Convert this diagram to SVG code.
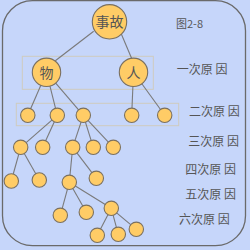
<svg xmlns="http://www.w3.org/2000/svg" width="250" height="250" viewBox="0 0 250 250">
<style>
.frame{fill:none;stroke:#6a6a6a;stroke-width:1.3}
.box{fill:none;stroke:#cfcbbf;stroke-width:1}
.edge{stroke:#7a7a7a;stroke-width:1.1;fill:none}
.node circle{fill:#ffcc66;stroke:#7a7060;stroke-width:1.1}
.nl{font-family:"Noto Sans CJK SC","Noto Sans",sans-serif;font-size:14px;fill:#555;text-anchor:middle}
.lbl{font-family:"Noto Sans CJK SC","Noto Sans",sans-serif;font-size:12px;fill:#555}
</style>
<rect width="250" height="250" fill="#c6d6fa"/>
<rect class="frame" x="2.5" y="0.7" width="243" height="245" rx="30" ry="30"/>
<rect class="box" x="22.3" y="56.3" width="131" height="33"/>
<rect class="box" x="16.3" y="103.3" width="162.4" height="22.4"/>
<g id="connectors">
<line class="edge" x1="93.7" y1="31.3" x2="55" y2="61"/>
<line class="edge" x1="121" y1="33.3" x2="132" y2="59.3"/>
<line class="edge" x1="46.5" y1="72.3" x2="27.8" y2="115.3"/>
<line class="edge" x1="46.5" y1="72.3" x2="57.3" y2="115.3"/>
<line class="edge" x1="46.5" y1="72.3" x2="83.3" y2="115.3"/>
<line class="edge" x1="133.5" y1="72.3" x2="131.7" y2="115.3"/>
<line class="edge" x1="133.5" y1="72.3" x2="164.7" y2="115.3"/>
<line class="edge" x1="57.3" y1="115.3" x2="20.7" y2="147.3"/>
<line class="edge" x1="57.3" y1="115.3" x2="42.7" y2="147.3"/>
<line class="edge" x1="83.3" y1="115.3" x2="72.7" y2="147.3"/>
<line class="edge" x1="83.3" y1="115.3" x2="93.3" y2="147.3"/>
<line class="edge" x1="83.3" y1="115.3" x2="113.3" y2="147.3"/>
<line class="edge" x1="20.7" y1="147.3" x2="11.3" y2="181"/>
<line class="edge" x1="20.7" y1="147.3" x2="39.3" y2="180"/>
<line class="edge" x1="72.7" y1="147.3" x2="69.3" y2="182.3"/>
<line class="edge" x1="72.7" y1="147.3" x2="96.3" y2="178.3"/>
<line class="edge" x1="69.3" y1="182.3" x2="60.3" y2="215.3"/>
<line class="edge" x1="69.3" y1="182.3" x2="86.3" y2="212.3"/>
<line class="edge" x1="69.3" y1="182.3" x2="111.3" y2="208.3"/>
<line class="edge" x1="111.3" y1="208.3" x2="97.3" y2="235.3"/>
<line class="edge" x1="111.3" y1="208.3" x2="118.3" y2="234.3"/>
<line class="edge" x1="111.3" y1="208.3" x2="136.3" y2="229.3"/>
</g>
<g id="n-accident" class="node"><circle cx="109.5" cy="21.8" r="17.2"/><text class="nl" x="109.5" y="27">事故</text></g>
<g id="n-wu" class="node"><circle cx="46.5" cy="72.3" r="14.2"/><text class="nl" x="46.5" y="77.5">物</text></g>
<g id="n-ren" class="node"><circle cx="133.5" cy="72.3" r="14.2"/><text class="nl" x="133.5" y="77.5">人</text></g>
<g id="n2a" class="node"><circle cx="27.8" cy="115.3" r="7.2"/></g>
<g id="n2b" class="node"><circle cx="57.3" cy="115.3" r="7.2"/></g>
<g id="n2c" class="node"><circle cx="83.3" cy="115.3" r="7.2"/></g>
<g id="n2d" class="node"><circle cx="131.7" cy="115.3" r="7.2"/></g>
<g id="n2e" class="node"><circle cx="164.7" cy="115.3" r="7.2"/></g>
<g id="n3a" class="node"><circle cx="20.7" cy="147.3" r="7.2"/></g>
<g id="n3b" class="node"><circle cx="42.7" cy="147.3" r="7.2"/></g>
<g id="n3c" class="node"><circle cx="72.7" cy="147.3" r="7.2"/></g>
<g id="n3d" class="node"><circle cx="93.3" cy="147.3" r="7.2"/></g>
<g id="n3e" class="node"><circle cx="113.3" cy="147.3" r="7.2"/></g>
<g id="n4a" class="node"><circle cx="11.3" cy="181" r="7.2"/></g>
<g id="n4b" class="node"><circle cx="39.3" cy="180" r="7.2"/></g>
<g id="n4c" class="node"><circle cx="69.3" cy="182.3" r="7.2"/></g>
<g id="n4d" class="node"><circle cx="96.3" cy="178.3" r="7.2"/></g>
<g id="n5a" class="node"><circle cx="60.3" cy="215.3" r="7.2"/></g>
<g id="n5b" class="node"><circle cx="86.3" cy="212.3" r="7.2"/></g>
<g id="n5c" class="node"><circle cx="111.3" cy="208.3" r="7.2"/></g>
<g id="n6a" class="node"><circle cx="97.3" cy="235.3" r="7.2"/></g>
<g id="n6b" class="node"><circle cx="118.3" cy="234.3" r="7.2"/></g>
<g id="n6c" class="node"><circle cx="136.3" cy="229.3" r="7.2"/></g>
<text class="lbl" x="176" y="28" style="font-size:11px">图2-8</text>
<text class="lbl" x="176.7" y="73.5">一次原 因</text>
<text class="lbl" x="189" y="115.5">二次原 因</text>
<text class="lbl" x="188.3" y="145.5">三次原 因</text>
<text class="lbl" x="185.3" y="173.5">四次原 因</text>
<text class="lbl" x="185.3" y="198.5">五次原 因</text>
<text class="lbl" x="179" y="224">六次原 因</text>
</svg>
